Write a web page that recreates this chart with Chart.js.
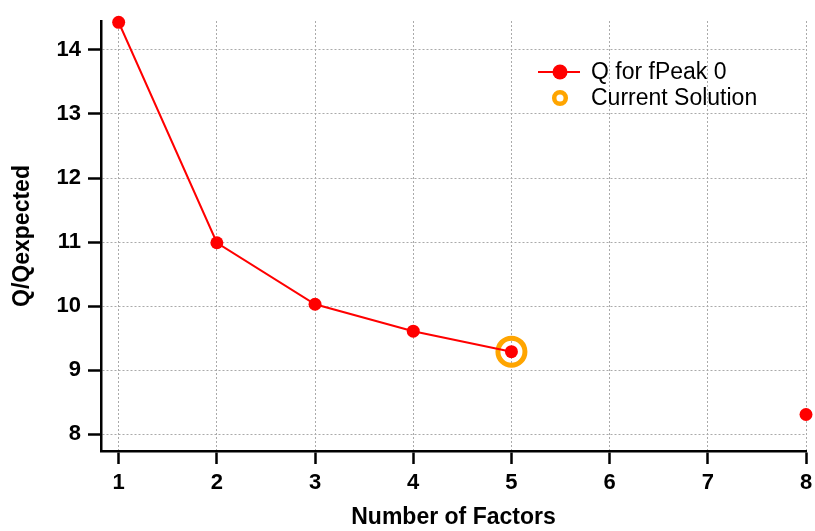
<!DOCTYPE html>
<html>
<head>
<meta charset="utf-8">
<script src="https://cdn.jsdelivr.net/npm/chart.js@4/dist/chart.umd.min.js"></script>
<style>
  html, body { margin: 0; padding: 0; background: #fff; }
  #wrap { width: 815px; height: 531px; }
</style>
</head>
<body>
<div id="wrap"><canvas id="c" width="815" height="531"></canvas></div>
<script>
// Q/Qexpected against number of factors (no runs at 6 and 7 factors)
const factors = [1, 2, 3, 4, 5, 6, 7, 8];
const qValues = [14.43, 10.99, 10.03, 9.61, 9.29, null, null, 8.31];
const currentFactors = [5];
const currentQ = [9.29];
const seriesLabels = ['Q for fPeak 0', 'Current Solution'];
const xTicks = [1, 2, 3, 4, 5, 6, 7, 8];
const yTicks = [8, 9, 10, 11, 12, 13, 14];

const RED = '#ff0000';
const ORANGE = '#ffa500';
const FONT = 'Liberation Sans, Arial, sans-serif';

const qPoints = factors.map((f, i) => ({ x: f, y: qValues[i] }));
const currentPoints = currentFactors.map((f, i) => ({ x: f, y: currentQ[i] }));

// Legend drawn inside the plot area, top right
const insideLegend = {
  id: 'insideLegend',
  afterDraw(chart) {
    const ctx = chart.ctx;
    ctx.save();
    ctx.font = '23px ' + FONT;
    ctx.textBaseline = 'middle';
    // row 1: line + dot
    let y = 72;
    ctx.strokeStyle = RED;
    ctx.lineWidth = 2;
    ctx.beginPath(); ctx.moveTo(538, y); ctx.lineTo(580, y); ctx.stroke();
    ctx.fillStyle = RED;
    ctx.beginPath(); ctx.arc(560, y, 7.5, 0, Math.PI * 2); ctx.fill();
    ctx.fillStyle = '#000';
    ctx.fillText(seriesLabels[0], 591, y + 1);
    // row 2: ring
    y = 98;
    ctx.strokeStyle = ORANGE;
    ctx.lineWidth = 4.5;
    ctx.beginPath(); ctx.arc(560, y, 5.8, 0, Math.PI * 2); ctx.stroke();
    ctx.fillText(seriesLabels[1], 591, y + 1);
    ctx.restore();
  }
};

const gridCommon = {
  color: '#aaaaaa',
  lineWidth: 1,
  tickColor: '#000',
  tickWidth: 2.5,
  tickLength: 13,
  tickBorderDash: [],
};
const borderCommon = { display: true, color: '#000', width: 2.5, dash: [2, 2] };
const tickFont = { family: FONT, size: 22, weight: 'bold' };
const titleFont = { family: FONT, size: 23, weight: 'bold' };

new Chart(document.getElementById('c'), {
  type: 'line',
  data: {
    datasets: [
      {
        label: seriesLabels[1],
        data: currentPoints,
        showLine: false,
        pointStyle: 'circle',
        pointRadius: 13.5,
        pointHoverRadius: 13.5,
        pointBorderWidth: 5,
        pointBorderColor: ORANGE,
        pointBackgroundColor: 'rgba(0,0,0,0)',
        order: 2,
      },
      {
        label: seriesLabels[0],
        data: qPoints,
        borderColor: RED,
        borderWidth: 2,
        backgroundColor: RED,
        pointRadius: 6.5,
        pointHoverRadius: 6.5,
        pointBorderWidth: 0,
        pointBackgroundColor: RED,
        spanGaps: false,
        tension: 0,
        clip: false,
        order: 1,
      },
    ],
  },
  options: {
    responsive: false,
    animation: false,
    events: [],
    layout: { autoPadding: false, padding: { top: 21, right: 9, left: 0, bottom: 0 } },
    plugins: { legend: { display: false }, tooltip: { enabled: false } },
    scales: {
      x: {
        type: 'linear',
        min: 0.82,
        max: 8,
        afterFit(s) { s.height = 80; s.paddingRight = 0; s.paddingLeft = 0; },
        afterBuildTicks(s) { s.ticks = xTicks.map(v => ({ value: v })); },
        grid: gridCommon,
        border: borderCommon,
        ticks: { color: '#000', font: tickFont, padding: 6 },
        title: {
          display: true,
          text: 'Number of Factors',
          color: '#000',
          font: titleFont,
          padding: { top: 0, bottom: 0 },
        },
      },
      y: {
        type: 'linear',
        min: 7.74,
        max: 14.45,
        afterFit(s) { s.width = 101; s.paddingTop = 0; s.paddingBottom = 0; },
        afterBuildTicks(s) { s.ticks = yTicks.map(v => ({ value: v })); },
        grid: gridCommon,
        border: borderCommon,
        ticks: { color: '#000', font: tickFont, padding: 7 },
        title: {
          display: true,
          text: 'Q/Qexpected',
          color: '#000',
          font: titleFont,
          padding: { top: 9, bottom: 0 },
        },
      },
    },
  },
  plugins: [insideLegend],
});
</script>
</body>
</html>
